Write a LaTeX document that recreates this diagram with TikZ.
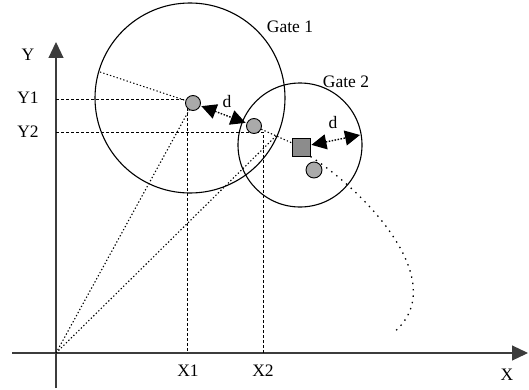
\documentclass[tikz,border=0pt]{standalone}
\usepackage{fontspec}
\setmainfont{Liberation Serif}
\usepackage{tikz}
\usetikzlibrary{arrows.meta, positioning, calc}
\definecolor{axisgray}{RGB}{60,60,60}
\definecolor{dotgray}{RGB}{170,170,170}
\definecolor{boxgray}{RGB}{140,140,140}
\tikzset{
  axis/.style={-{Triangle[length=16pt,width=15pt]}, line width=1.1pt, color=axisgray},
  gate/.style={circle, draw, line width=1.1pt, inner sep=0pt},
  meas/.style={circle, draw, line width=0.9pt, fill=dotgray, minimum size=15pt, inner sep=0pt},
  pred/.style={rectangle, draw, line width=0.9pt, fill=boxgray, minimum size=18pt, inner sep=0pt},
  guide/.style={dash pattern=on 3pt off 2pt, line width=0.8pt},
  track/.style={dash pattern=on 1.3pt off 2.2pt, line width=1.1pt},
  sparse/.style={dash pattern=on 1.4pt off 5pt, line width=1.3pt},
  dist/.style={{Triangle[length=15pt,width=15pt]}-{Triangle[length=15pt,width=15pt]},
    dash pattern=on 1.5pt off 1.5pt, line width=1.4pt},
  lbl/.style={inner sep=0pt, font=\fontsize{17.5}{20}\selectfont},
}
\begin{document}
\begin{tikzpicture}[x=1pt, y=1pt]
  \useasboundingbox (0,0) rectangle (529,389);
  \coordinate (O) at (56,36);
  \draw[axis] (12,36) -- (528,36);
  \draw[axis] (56,1) -- (56,347);
  \node[gate, minimum size=190pt] (g1) at (190,291) {};
  \node[gate, minimum size=124pt] (g2) at (300,244) {};
  \node[lbl] (g1lbl) at (290,362) {Gate 1};
  \node[lbl] (g2lbl) at (346,307) {Gate 2};
  \coordinate (k1) at (187,290);
  \coordinate (k2) at (263,257);
  \coordinate (start) at (100,317);
  \coordinate (q) at (277,254);
  \coordinate (e2) at (360,254);
  \draw[guide] (k1 -| O) -- (k1) -- (k1 |- O);
  \draw[guide] (k2 -| O) -- (k2) -- (k2 |- O);
  \node[meas] (p1) at (193,286) {};
  \node[meas] (p2) at (254,263) {};
  \node[pred] (sq) at (301,242) {};
  \node[meas, minimum size=16pt] (p3) at (314,219) {};
  \draw[track] (start) -- (p1);
  \draw[track] (O) -- (p1);
  \draw[track] (O) -- (q);
  \draw[track] (p2) -- (sq);
  \draw[sparse] (sq.south east) .. controls (370,194) and (452,104) .. (393,56);
  \draw[dist, shorten <=1pt, shorten >=1pt] (p1) -- (p2);
  \draw[dist, shorten <=1pt] (sq) -- (e2);
  \node[lbl] (d1) at (227,287) {d};
  \node[lbl] (d2) at (333,266) {d};
  \node[lbl] (ylbl) at (28,334) {Y};
  \node[lbl] (y1lbl) at (28,291) {Y1};
  \node[lbl] (y2lbl) at (28,257) {Y2};
  \node[lbl] (x1lbl) at (188,18) {X1};
  \node[lbl] (x2lbl) at (263,18) {X2};
  \node[lbl] (xlbl) at (507,14) {X};
\end{tikzpicture}
\end{document}
